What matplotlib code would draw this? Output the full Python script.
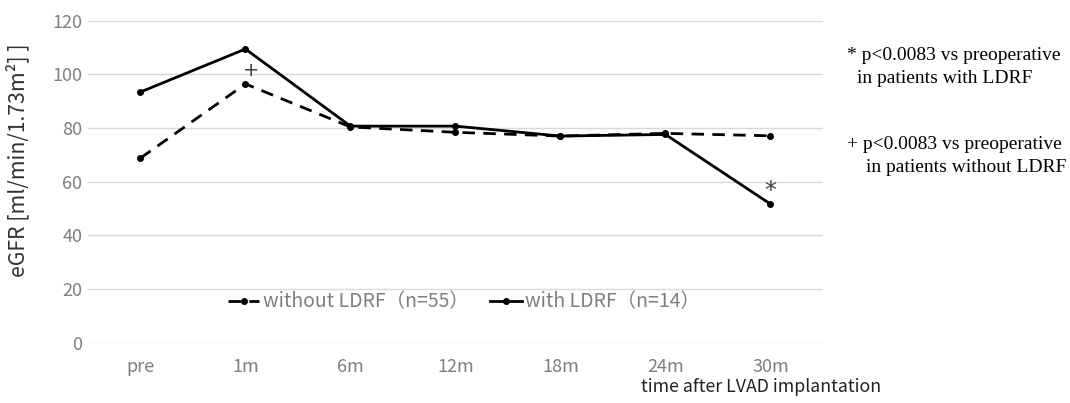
import matplotlib.pyplot as plt

categories = ['pre', '1m', '6m', '12m', '18m', '24m', '30m']
without_ldrf = [68.8, 96.4, 80.4, 78.4, 77.0, 78.0, 77.1]
with_ldrf = [93.4, 109.4, 80.7, 80.7, 77.0, 77.6, 51.7]
y_ticks = [0, 20, 40, 60, 80, 100, 120]

jp = ['Noto Sans CJK JP', 'DejaVu Sans']

fig = plt.figure(figsize=(10.7, 4.03), dpi=100)
ax = fig.add_axes([0.0822, 0.1489, 0.6869, 0.8002])

x = range(len(categories))
ax.plot(x, without_ldrf, color='black', lw=2, ls=(0, (4.5, 3)), marker='o', ms=4,
        label='without LDRF（n=55）')
ax.plot(x, with_ldrf, color='black', lw=2, marker='o', ms=4,
        label='with LDRF（n=14）')

# significance marks
ax.text(1.05, 98.0, '+', ha='center', va='bottom', fontsize=14, color='#404040',
        family='DejaVu Sans')
ax.text(6, 52.0, '*', ha='center', va='bottom', fontsize=17, color='#404040',
        family='DejaVu Sans')

ax.set_xlim(-0.5, 6.5)
ax.set_ylim(0, 120)
ax.set_xticks(list(x))
ax.set_xticklabels(categories)
ax.set_yticks(y_ticks)
ax.grid(axis='y', color='#d9d9d9', lw=1)
ax.set_axisbelow(True)
for s in ax.spines.values():
    s.set_visible(False)
ax.tick_params(length=0, labelsize=13, labelcolor='#7f7f7f')
ax.tick_params(axis='y', pad=4)
ax.tick_params(axis='x', pad=11)
for lab in ax.get_xticklabels() + ax.get_yticklabels():
    lab.set_family(jp)

ax.set_ylabel('eGFR [ml/min/1.73m²] ]', fontsize=15.3, color='#333333',
              family=jp, labelpad=10)
ax.yaxis.set_label_coords(-0.08, 0.567)

leg = ax.legend(loc='center', bbox_to_anchor=(0.512, 0.127), ncol=2, frameon=False,
                handlelength=1.6, handletextpad=0.2, columnspacing=1.1,
                prop={'family': jp, 'size': 14})
for t in leg.get_texts():
    t.set_color('#7f7f7f')

fig.text(0.599, 0.028, 'time after LVAD implantation', fontsize=12.8, color='#222222',
         family=jp)

serif = 'Liberation Serif'
fig.text(0.792, 0.852, '* p<0.0083 vs preoperative', fontsize=14, family=serif)
fig.text(0.801, 0.793, 'in patients with LDRF', fontsize=14, family=serif)
fig.text(0.792, 0.631, '+ p<0.0083 vs preoperative', fontsize=14, family=serif)
fig.text(0.809, 0.573, 'in patients without LDRF', fontsize=14, family=serif)

fig.savefig('out.png', dpi=100)
